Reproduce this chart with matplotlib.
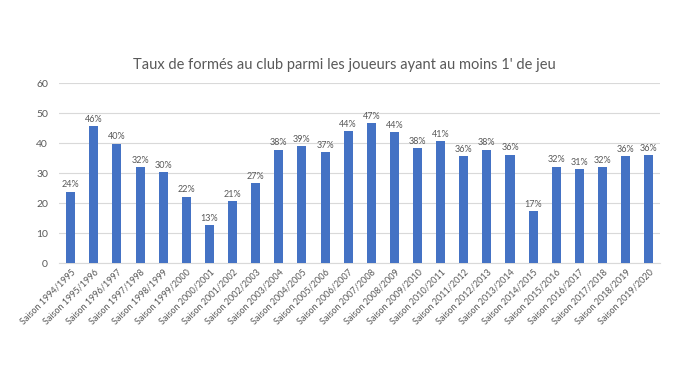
import matplotlib
matplotlib.use("Agg")
from matplotlib import pyplot as plt

saisons = ["Saison %d/%d" % (y, y + 1) for y in range(1994, 2020)]
taux = [23.8, 45.7, 39.8, 32.0, 30.3, 22.1, 12.6, 20.6, 26.6, 37.8, 38.9, 36.9, 43.9,
        46.6, 43.6, 38.4, 40.6, 35.6, 37.8, 36.2, 17.3, 32.1, 31.3, 31.9, 35.6, 35.9]

plt.rcParams['font.family'] = ['Lato', 'DejaVu Sans']
grey = '#595959'

fig = plt.figure(figsize=(6.8, 3.83), dpi=100)
ax = fig.add_axes([0.087, 0.313, 0.884, 0.47])

x = range(len(taux))
bars = ax.bar(x, taux, width=0.39, color='#4472C4', zorder=3)
for b, v in zip(bars, taux):
    ax.text(b.get_x() + b.get_width() / 2, v + 0.8, "%.0f%%" % v,
            ha='center', va='bottom', fontsize=6.5, color=grey)

ax.set_xlim(-0.5, len(taux) - 0.5)
ax.set_ylim(0, 60)
ax.set_yticks(range(0, 61, 10))
ax.set_xticks(list(x))
ax.set_xticklabels(saisons, rotation=45, ha='right', rotation_mode='anchor',
                   fontsize=6.5, color=grey)
ax.tick_params(axis='y', labelsize=7.5, colors=grey, length=0, pad=8)
ax.tick_params(axis='x', length=0, pad=3)
ax.grid(axis='y', color='#D9D9D9', linewidth=0.8, zorder=0)
for s in ['top', 'right', 'left']:
    ax.spines[s].set_visible(False)
ax.spines['bottom'].set_color('#D9D9D9')

fig.text(0.507, 0.83, "Taux de formés au club parmi les joueurs ayant au moins 1' de jeu",
         ha='center', va='center', fontsize=10.5, color=grey)

fig.savefig('out.png', dpi=100)
